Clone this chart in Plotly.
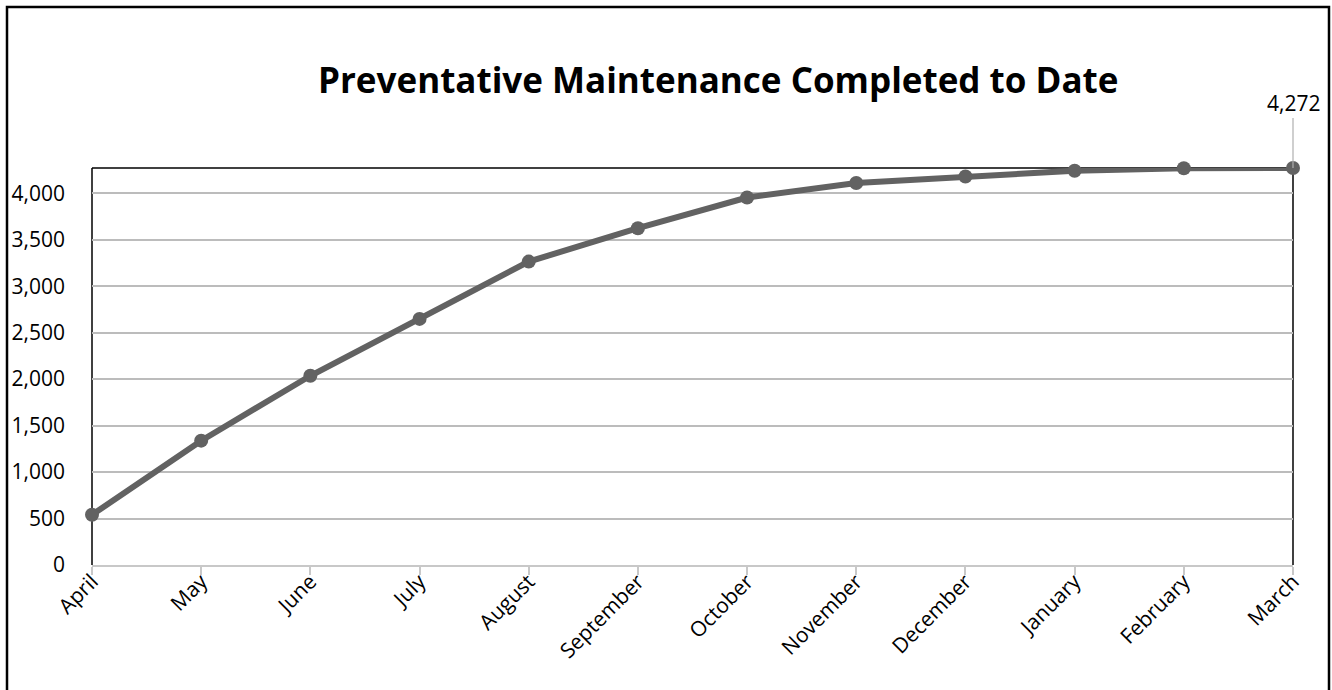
import plotly.graph_objects as go

# Cumulative preventative maintenance work orders completed, by fiscal month
months = ["April", "May", "June", "July", "August", "September",
          "October", "November", "December", "January", "February", "March"]
completed = [540, 1338, 2036, 2648, 3265, 3624, 3954, 4110, 4180, 4243, 4270, 4272]

W, H = 1332, 690
L, R, T, B = 92, 39, 168, 125
pw, ph = W - L - R, H - T - B

def px_x(p):
    return (p - L) / pw

def px_y(p):
    return (H - B - p) / ph

FONT = "Open Sans, Noto Sans, sans-serif"
LINE = "#626262"

fig = go.Figure()
fig.add_trace(go.Scatter(
    x=list(range(len(months))), y=completed, mode="lines+markers",
    line=dict(color=LINE, width=6),
    marker=dict(color=LINE, size=14),
    hoverinfo="skip", showlegend=False, cliponaxis=False,
))

last_i = len(months) - 1
fig.add_annotation(
    x=last_i, y=completed[-1], xref="x", yref="y",
    text=f"{completed[-1]:,}", showarrow=True, arrowhead=0,
    arrowcolor="#b0b0b0", arrowwidth=1.2, ax=0, ay=-50, standoff=0,
    font=dict(family=FONT, size=21, color="#000000"),
    yanchor="bottom", borderpad=0,
)

fig.add_annotation(
    x=px_x(718), y=px_y(79), xref="paper", yref="paper",
    text="<b>Preventative Maintenance Completed to Date</b>",
    showarrow=False, xanchor="center", yanchor="middle",
    font=dict(family=FONT, size=35, color="#000000"),
)

# plot-area frame: top, left and right edges in black
for x0, y0, x1, y1 in [(0, 1, 1, 1), (0, 0, 0, 1), (1, 0, 1, 1)]:
    fig.add_shape(type="line", xref="paper", yref="paper",
                  x0=x0, y0=y0, x1=x1, y1=y1,
                  line=dict(color="#000000", width=1.5), layer="below")

# outer chart border
fig.add_shape(type="rect", xref="paper", yref="paper",
              x0=px_x(7), x1=px_x(1329), y0=px_y(7), y1=px_y(720),
              line=dict(color="#000000", width=2.5), fillcolor="rgba(0,0,0,0)")

fig.update_xaxes(
    range=[0, last_i], tickmode="array",
    tickvals=list(range(len(months))), ticktext=months,
    tickangle=-45, ticks="outside", ticklen=8, tickcolor="#c8c8c8", tickwidth=1.5,
    showline=True, linecolor="#c8c8c8", linewidth=2,
    showgrid=False, zeroline=False, ticklabelstandoff=-14,
    tickfont=dict(family=FONT, size=21, color="#000000"),
)
fig.update_yaxes(
    range=[0, 4272], tick0=0, dtick=500, tickformat=",d",
    showgrid=True, gridcolor="#bcbcbc", gridwidth=1.5,
    showline=False, zeroline=False, ticks="", ticklabelstandoff=26,
    tickfont=dict(family=FONT, size=21, color="#000000"),
)

fig.update_layout(
    width=W, height=H, autosize=False,
    margin=dict(l=L, r=R, t=T, b=B),
    plot_bgcolor="#ffffff", paper_bgcolor="#ffffff",
    font=dict(family=FONT, color="#000000"),
)

fig.write_html("out.html", config={"displayModeBar": False})
